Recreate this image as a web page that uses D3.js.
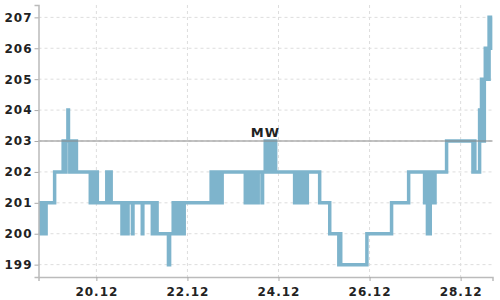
<!DOCTYPE html>
<html>
<head>
<meta charset="utf-8">
<script src="https://cdn.jsdelivr.net/npm/d3@7"></script>
<style>
    body { margin: 0; background: #fff; }
    svg text { font-family: "DejaVu Sans", sans-serif; fill: #222; }
</style>
</head>
<body>
<svg id="chart" width="500" height="300"></svg>
<script>
// start of the series, hours below are counted from here
const startDate = "2023-12-18T00:00:00";

// change points of the step line (hours after startDate, value from then on)
const stepHours = [
    17.5, 18.5, 19, 20, 20.5, 21.5, 26, 30.5, 31.5, 32, 33, 33.3, 34, 35.5, 36, 37, 37.5,
    44.8, 45.5, 46.8, 47.5, 48.5, 53.5, 53.8, 55.5, 55.8, 61.5, 62.5, 64.3, 64.7, 67, 67.3,
    72.2, 72.5, 77.5, 78, 79, 79.5, 80, 86, 86.6, 88.5, 89, 90, 90.5, 91.3, 92.5, 93, 94, 94.3,
    108.5, 109, 110, 110.5, 111.5, 112, 113, 113.5, 114.3,
    126.5, 127, 128, 128.5, 129.5, 130, 131.5, 132, 133, 133.3, 135.3, 135.6,
    137, 137.5, 138.5, 139, 139.8, 141.5, 142, 142.5,
    152.5, 153, 154, 154.5, 155.5, 156, 157, 157.5, 158.5, 159.2, 165.7, 171,
    175.8, 176.3, 176.8, 190.6, 203.6, 212.6,
    221, 221.5, 222.5, 224, 225, 225.5, 226, 226.5, 232.6,
    246.5, 247, 247.5, 250, 250.5, 251, 252, 252.5, 253, 253.5, 254, 254.5, 255, 255.5, 256, 256.8
];
const stepValues = [
    200, 201, 200, 201, 200, 201, 202, 203, 202, 203, 204, 203, 202, 203, 202, 203, 202,
    201, 202, 201, 202, 201, 202, 201, 202, 201, 200, 201, 200, 201, 200, 201,
    200, 201, 200, 201, 200, 201, 200, 199, 200, 201, 200, 201, 200, 201, 200, 201, 200, 201,
    202, 201, 202, 201, 202, 201, 202, 201, 202,
    201, 202, 201, 202, 201, 202, 201, 202, 201, 202, 201, 202,
    203, 202, 203, 202, 203, 202, 203, 202,
    201, 202, 201, 202, 201, 202, 201, 202, 201, 202, 201, 200,
    199, 200, 199, 200, 201, 202,
    201, 202, 200, 202, 201, 202, 201, 202, 203,
    202, 203, 202, 204, 203, 205, 203, 205, 206, 205, 206, 205, 207, 206, 207, 207
];

// mean value drawn as reference line
const meanValue = 203;
const meanLabel = "MW";

// axis ticks
const yTicks = [199, 200, 201, 202, 203, 204, 205, 206, 207];
const xTickDays = ["2023-12-20", "2023-12-22", "2023-12-24", "2023-12-26", "2023-12-28"];

class StepChart {
    constructor(svgId) {
        this.svg = d3.select(svgId);
        this.margin = { left: 38.5, right: 7.5, top: 5, bottom: 23 };
        this.width = 500 - this.margin.left - this.margin.right;
        this.height = 300 - this.margin.top - this.margin.bottom;

        let t0 = new Date(startDate).getTime();
        this.data = stepHours.map((h, i) => ({
            date: new Date(t0 + h * 3600e3),
            value: stepValues[i]
        }));

        this.x = d3.scaleTime()
            .domain(d3.extent(this.data, d => d.date))
            .range([0, this.width]);
        this.y = d3.scaleLinear()
            .domain([198.6, 207.4])
            .range([this.height, 0]);
    }

    draw() {
        let g = this.svg.append("g")
            .attr("transform", `translate(${this.margin.left},${this.margin.top})`);

        let tickDates = xTickDays.map(d => new Date(d + "T00:00:00"));

        // dashed grid
        g.append("g").selectAll("line").data(yTicks).enter().append("line")
            .attr("x1", 0).attr("x2", this.width)
            .attr("y1", d => this.y(d)).attr("y2", d => this.y(d))
            .attr("stroke", "#ddd").attr("stroke-dasharray", "3,3");
        g.append("g").selectAll("line").data(tickDates).enter().append("line")
            .attr("x1", d => this.x(d)).attr("x2", d => this.x(d))
            .attr("y1", 0).attr("y2", this.height)
            .attr("stroke", "#ddd").attr("stroke-dasharray", "3,3");

        // step line, clipped to plot area
        this.svg.append("clipPath").attr("id", "plotClip")
            .append("rect").attr("width", this.width).attr("height", this.height);

        let line = d3.line()
            .x(d => this.x(d.date))
            .y(d => this.y(d.value))
            .curve(d3.curveStepAfter);

        g.append("path")
            .datum(this.data)
            .attr("clip-path", "url(#plotClip)")
            .attr("fill", "none")
            .attr("stroke", "#7eb4cc")
            .attr("stroke-width", 3.5)
            .attr("d", line);

        // mean line + label
        g.append("line")
            .attr("x1", 0).attr("x2", this.width)
            .attr("y1", this.y(meanValue)).attr("y2", this.y(meanValue))
            .attr("stroke", "#888").attr("stroke-width", 1.2);
        g.append("text")
            .attr("x", this.width / 2).attr("y", this.y(meanValue) - 4)
            .attr("text-anchor", "middle")
            .style("font-size", "13px").style("font-weight", "bold")
            .style("letter-spacing", "1px")
            .attr("fill", "#333")
            .text(meanLabel);

        // axes
        let xAxis = d3.axisBottom(this.x)
            .tickValues(tickDates)
            .tickFormat(d3.timeFormat("%d.%m"))
            .tickSize(4).tickPadding(6);
        let xg = g.append("g").attr("transform", `translate(0,${this.height})`).call(xAxis);

        let yAxis = d3.axisLeft(this.y)
            .tickValues(yTicks)
            .tickFormat(d3.format("d"))
            .tickSize(4).tickPadding(2);
        let yg = g.append("g").call(yAxis);

        [xg, yg].forEach(a => {
            a.select(".domain").attr("stroke", "#bbb").attr("stroke-width", 1.5);
            a.selectAll(".tick line").attr("stroke", "#aaa");
            a.selectAll(".tick text")
                .attr("fill", "#222")
                .style("font-family", "DejaVu Sans, sans-serif")
                .style("font-size", "12px")
                .style("font-weight", "bold")
                .style("letter-spacing", "1px");
        });
    }
}

let chart = new StepChart("#chart");
chart.draw();
</script>
</body>
</html>
